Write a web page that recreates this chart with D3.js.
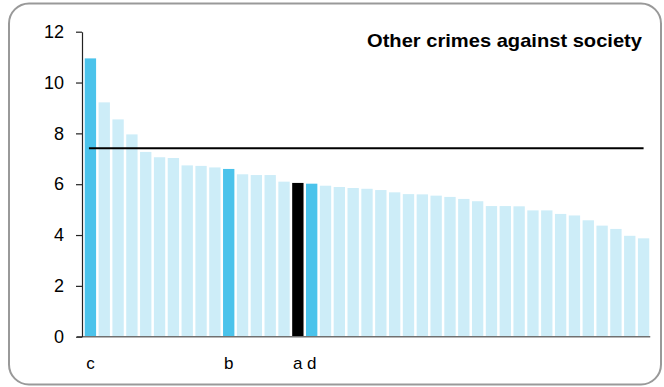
<!DOCTYPE html>
<html><head><meta charset="utf-8">
<script src="https://cdn.jsdelivr.net/npm/d3@7"></script>
<style>html,body{margin:0;padding:0;background:#fff;}svg{display:block;}</style>
</head><body>
<svg id="chart" width="664" height="387"></svg>
<script>
const values = [10.95, 9.22, 8.55, 7.96, 7.27, 7.06, 7.03, 6.74, 6.72, 6.66,
  6.60, 6.39, 6.36, 6.36, 6.10, 6.05, 6.02, 5.94, 5.89, 5.85,
  5.82, 5.77, 5.68, 5.61, 5.60, 5.55, 5.50, 5.42, 5.33, 5.14,
  5.14, 5.13, 4.97, 4.97, 4.83, 4.77, 4.58, 4.37, 4.24, 3.97, 3.87];
const labels = ["c","","","","","","","","","","b","","","","","a","d"];
const highlight = [0, 10, 16];
const selected = [15];
const average = [7.41];
const yTicks = [0, 2, 4, 6, 8, 10, 12];
const title = "Other crimes against society";

const svg = d3.select("#chart");
svg.append("rect").attr("x", 9).attr("y", 3.5).attr("width", 652).attr("height", 381)
  .attr("rx", 20).attr("ry", 20).attr("fill", "#fff").attr("stroke", "#999").attr("stroke-width", 2);

const idx = values.map((d, i) => i);
const x = d3.scaleBand().domain(idx).range([83.5, 650.5]).paddingInner(0.18).paddingOuter(0.09);
const y = d3.scaleLinear().domain([0, 12]).range([336.7, 31.7]);

const colorOf = i => selected.includes(i) ? "#000000" : highlight.includes(i) ? "#4bc3eb" : "#cdedf8";

svg.append("g").selectAll("rect").data(values).join("rect")
  .attr("x", (d, i) => x(i)).attr("width", x.bandwidth())
  .attr("y", d => y(d)).attr("height", d => y(0) - y(d))
  .attr("fill", (d, i) => colorOf(i));

// x axis baseline
svg.append("line").attr("x1", 77).attr("x2", x(values.length - 1) + x.bandwidth() + 1)
  .attr("y1", y(0)).attr("y2", y(0)).attr("stroke", "#707070").attr("stroke-width", 1.5);

// y axis
const yAxis = d3.axisLeft(y).tickValues(yTicks).tickSize(6).tickPadding(12).tickSizeOuter(0);
const ya = svg.append("g").attr("transform", "translate(82,0)").call(yAxis);
ya.select(".domain").attr("stroke", "#222").attr("stroke-width", 1.2);
ya.selectAll(".tick line").attr("stroke", "#222").attr("stroke-width", 1.2);
ya.selectAll(".tick text").attr("font-family", "Liberation Sans, Arial, sans-serif")
  .attr("font-size", 18).attr("fill", "#000");

// average line
svg.append("line")
  .attr("x1", x(0) + x.bandwidth() / 2 - 1.5)
  .attr("x2", x(values.length - 1) + x.bandwidth() / 2)
  .attr("y1", y(average[0])).attr("y2", y(average[0]))
  .attr("stroke", "#000").attr("stroke-width", 2);

// category labels
svg.append("g").selectAll("text").data(labels).join("text")
  .attr("x", (d, i) => x(i) + x.bandwidth() / 2).attr("y", 369)
  .attr("text-anchor", "middle")
  .attr("font-family", "Liberation Sans, Arial, sans-serif").attr("font-size", 17)
  .text(d => d);

svg.append("text").attr("x", 642).attr("y", 47).attr("text-anchor", "end")
  .attr("font-family", "Liberation Sans, Arial, sans-serif").attr("font-size", 19)
  .attr("font-weight", "bold").attr("textLength", 275).attr("lengthAdjust", "spacingAndGlyphs")
  .text(title);
</script>
</body></html>
